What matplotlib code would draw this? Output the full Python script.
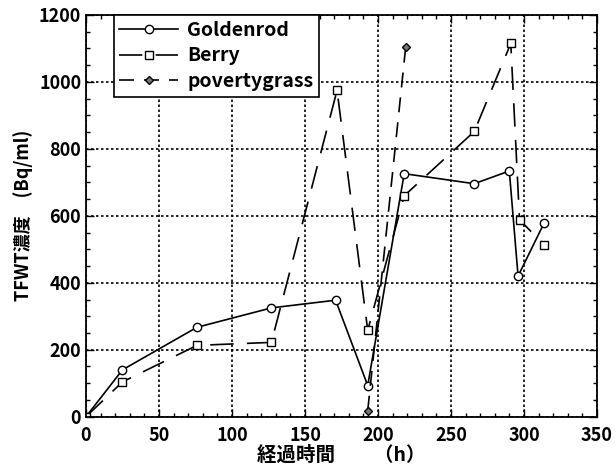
import matplotlib.pyplot as plt
from matplotlib.ticker import MultipleLocator

plt.rcParams['font.family'] = ['Noto Sans CJK JP', 'DejaVu Sans']

# Goldenrod
gold_t = [0, 25, 76, 127, 171, 193, 218, 266, 290, 296, 314]
gold_c = [0, 140, 267, 325, 348, 93, 726, 696, 734, 420, 580]

# Berry
berry_t = [0, 25, 76, 127, 172, 193, 218, 266, 291, 297, 314]
berry_c = [0, 104, 213, 222, 975, 258, 660, 852, 1115, 588, 513]

# povertygrass
poverty_t = [193, 219]
poverty_c = [18, 1104]

fig = plt.figure(figsize=(6.16, 4.76), dpi=100)
ax = fig.add_axes([0.1396, 0.1246, 0.8294, 0.8439])

ax.plot(gold_t, gold_c, color='black', lw=1.2, marker='o', ms=6,
        mfc='white', mec='black', mew=1.0, label='Goldenrod')
ax.plot(berry_t, berry_c, color='black', lw=1.2, dashes=(14, 8), marker='s', ms=6,
        mfc='white', mec='black', mew=1.0, label='Berry')
ax.plot(poverty_t, poverty_c, color='black', lw=1.2, dashes=(9, 6), marker='D', ms=4,
        mfc='#777777', mec='black', mew=1.0, label='povertygrass')

ax.set_xlim(0, 350)
ax.set_ylim(0, 1200)
ax.xaxis.set_major_locator(MultipleLocator(50))
ax.xaxis.set_minor_locator(MultipleLocator(10))
ax.yaxis.set_major_locator(MultipleLocator(200))
ax.yaxis.set_minor_locator(MultipleLocator(50))
ax.tick_params(which='both', direction='in', top=True, right=True, width=1.0)
ax.tick_params(which='major', length=6, labelsize=13)
ax.tick_params(axis='x', which='major', pad=7)
ax.tick_params(which='minor', length=3)
for lab in ax.get_xticklabels() + ax.get_yticklabels():
    lab.set_fontweight('bold')
for s in ax.spines.values():
    s.set_linewidth(1.3)

ax.grid(True, which='major', color='black', linestyle=(0, (1.5, 1.5)), lw=1.2)

ax.set_xlabel('経過時間　　（h）', fontsize=14, fontweight='bold', labelpad=0)
ax.set_ylabel('TFWT濃度　(Bq/ml)', fontsize=13, fontweight='bold', labelpad=4)

leg = ax.legend(loc='upper left', bbox_to_anchor=(0.035, 1.025), fontsize=14,
                frameon=True, fancybox=False, framealpha=1, edgecolor='black',
                handlelength=3.0, borderpad=0.3, labelspacing=0.35, handletextpad=0.5)
leg.get_frame().set_linewidth(1.2)
for t in leg.get_texts():
    t.set_fontweight('bold')

plt.savefig('out.png', dpi=100)
